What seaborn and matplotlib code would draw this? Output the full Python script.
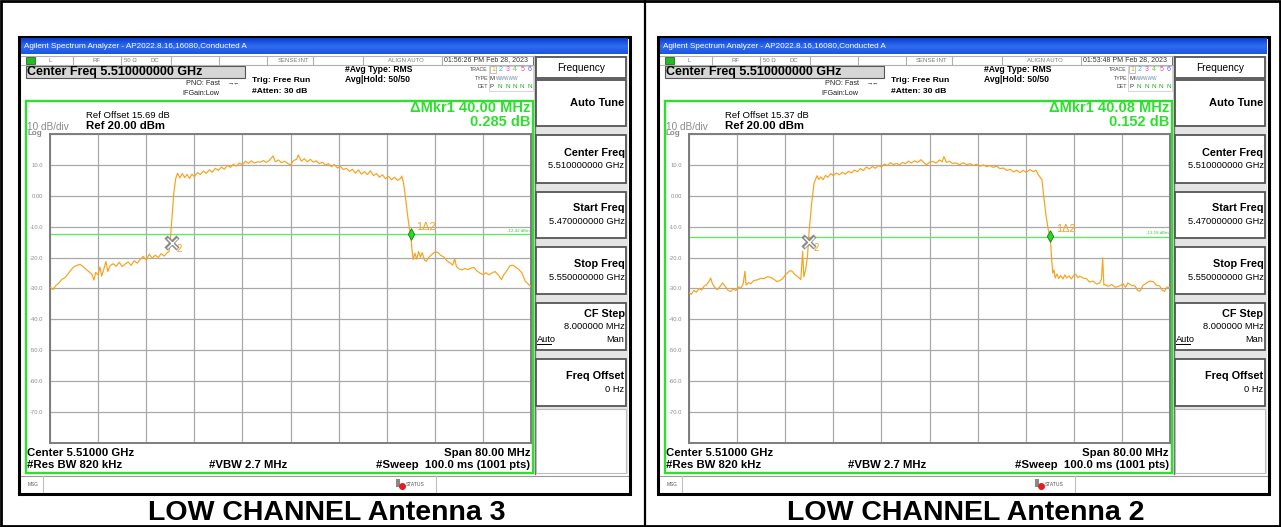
import numpy as np
import pandas as pd
import seaborn as sns
import matplotlib.pyplot as plt
from matplotlib.patches import Rectangle, Circle
from matplotlib.path import Path
from matplotlib.colors import LinearSegmentedColormap

plt.rcParams['font.family'] = ['Liberation Sans', 'DejaVu Sans']

# ---- data ----
start_mhz = 5470.0
captions = ["LOW CHANNEL Antenna 3", "LOW CHANNEL Antenna 2"]
ref_offsets = ["15.69", "15.37"]
clock = ["01:56:26 PM Feb 28, 2023", "01:53:48 PM Feb 28, 2023"]
mkr_delta_freq = ["40.00", "40.08"]
mkr_delta_level = ["0.285", "0.152"]
display_line = [-12.42, -13.18]
mkr1 = [(60.0, -12.4), (60.08, -12.9)]
mkr2 = [(20.3, -15.3), (19.9, -15.0)]

y_ticks = [20, 10, 0, -10, -20, -30, -40, -50, -60, -70, -80]
y_tick_labels = ["", "10.0", "0.00", "-10.0", "-20.0", "-30.0", "-40.0", "-50.0", "-60.0", "-70.0", ""]

ant3_mhz = [0, 0.5, 1.0, 1.5, 2.0, 2.5, 3.0, 3.5, 4.0, 4.5, 5.0, 5.5, 6.0, 6.5, 7.0, 7.3, 7.6, 8.0, 8.3, 8.6,
            9.0, 9.3, 9.6, 10.0, 10.5, 11.0, 11.5, 12.0, 12.5, 13.0, 13.5, 14.0, 14.5, 15.0, 15.5, 16.0, 16.5,
            17.0, 17.5, 18.0, 18.5, 19.0, 19.5, 19.8, 20.0, 20.3, 20.6, 20.9, 21.2, 21.6, 22.0, 22.4, 22.8,
            23.2, 23.6, 24.0, 24.5, 25.0, 25.5, 26.0, 26.5, 27.0, 27.5, 28.0, 28.5, 29.0, 29.5, 30.0, 30.5,
            31.0, 31.5, 32.0, 32.5, 33.0, 33.5, 34.0, 34.5, 35.0, 35.5, 36.0, 36.5, 37.1, 37.5, 38.0, 38.5,
            39.0, 39.5, 40.0, 40.5, 41.0, 41.3, 41.8, 42.3, 42.8, 43.3, 43.8, 44.3, 44.8, 45.3, 45.8, 46.3,
            46.8, 47.3, 47.8, 48.3, 48.8, 49.3, 49.8, 50.3, 50.8, 51.3, 51.8, 52.3, 52.8, 53.3, 53.8, 54.3,
            54.8, 55.3, 55.8, 56.3, 56.8, 57.3, 57.8, 58.3, 58.5, 58.8, 59.1, 59.5, 59.8, 60.0, 60.2, 60.4,
            60.7, 61.0, 61.3, 61.6, 61.9, 62.3, 62.6, 63.0, 63.5, 64.0, 64.5, 65.0, 65.5, 66.0, 66.5, 67.0,
            67.3, 67.6, 68.0, 68.5, 69.0, 69.5, 70.0, 70.5, 71.0, 71.5, 72.0, 72.5, 73.0, 73.5, 74.0, 74.5,
            75.1, 75.5, 76.0, 76.5, 77.0, 77.5, 78.0, 78.5, 79.0, 79.5, 80.0]
ant3_dbm = [-29.5, -30.3, -29.0, -28.2, -27.0, -26.5, -25.3, -24.0, -22.9, -22.5, -22.2, -22.9, -23.8, -24.6,
            -25.5, -27.3, -24.8, -25.6, -23.0, -26.0, -23.4, -21.2, -24.5, -22.6, -22.0, -22.8, -21.5, -22.9,
            -22.1, -21.4, -22.5, -21.0, -21.8, -20.6, -19.6, -20.8, -18.9, -20.2, -19.2, -20.0, -18.7, -19.5,
            -18.4, -18.0, -14.5, -6.7, 1.0, 5.5, 7.3, 5.8, 7.2, 5.9, 6.9, 5.6, 7.0, 6.2, 7.5, 6.9, 8.0, 7.3,
            8.4, 7.6, 8.9, 8.2, 9.3, 8.6, 9.9, 9.2, 10.2, 9.6, 10.6, 10.0, 11.2, 10.5, 11.3, 10.6, 11.0, 10.9,
            11.4, 10.8, 11.5, 12.9, 11.0, 11.6, 10.7, 11.2, 10.5, 10.0, 11.4, 11.8, 13.2, 11.2, 12.0, 11.0,
            11.8, 10.9, 11.3, 10.4, 10.9, 9.9, 10.4, 9.4, 10.1, 9.0, 9.5, 8.5, 8.9, 7.9, 8.6, 7.3, 8.4, 7.0,
            7.8, 6.9, 8.1, 6.5, 7.2, 6.0, 6.8, 5.5, 6.3, 5.2, 6.0, 5.0, 5.6, 6.4, 4.1, -0.2, -6.7, -11.0,
            -12.6, -17.4, -20.6, -18.6, -20.5, -18.0, -19.9, -18.4, -20.8, -21.2, -19.9, -19.0, -18.2, -18.3,
            -19.3, -19.8, -21.0, -21.7, -22.4, -20.3, -22.9, -23.6, -24.0, -23.5, -23.9, -23.4, -23.2, -24.3,
            -25.0, -25.5, -24.9, -25.6, -25.0, -24.5, -25.5, -27.1, -25.5, -24.2, -22.6, -22.5, -23.1, -23.9,
            -25.0, -27.5, -28.5, -29.4]

ant2_mhz = [0.0, 0.4, 0.8, 1.2, 1.7, 2.1, 2.5, 2.9, 3.3, 3.6, 3.9, 4.2, 4.7, 5.1, 5.6, 6.1, 6.5, 6.9, 7.3, 7.8,
            8.2, 8.6, 9.0, 9.3, 9.5, 9.9, 10.3, 10.8, 11.4, 11.9, 12.5, 13.0, 13.6, 14.1, 14.7, 15.2, 15.6,
            16.0, 16.4, 16.8, 17.2, 17.6, 18.1, 18.6, 18.9, 19.1, 19.4, 19.7, 20.0, 20.4, 20.8, 21.3, 21.6,
            21.9, 22.3, 22.7, 23.1, 23.6, 24.0, 24.5, 25.0, 25.5, 26.0, 26.5, 27.0, 27.5, 28.0, 28.5, 29.0,
            29.5, 30.0, 30.5, 31.0, 31.5, 32.0, 32.5, 33.0, 33.5, 34.0, 34.5, 35.0, 35.5, 36.0, 36.5, 37.0,
            37.5, 38.0, 38.6, 39.0, 39.5, 40.0, 40.6, 41.1, 41.7, 42.1, 42.4, 42.8, 43.3, 43.8, 44.5, 45.0,
            45.6, 46.2, 46.8, 47.3, 47.8, 48.4, 49.0, 49.5, 50.0, 50.6, 51.2, 51.7, 52.3, 52.8, 53.4, 54.0,
            54.5, 55.0, 55.6, 56.1, 56.7, 57.3, 57.7, 58.1, 58.7, 59.0, 59.4, 59.8, 60.08, 60.3, 60.5, 60.7,
            60.9, 61.2, 61.5, 61.8, 62.2, 62.5, 62.8, 63.2, 63.6, 63.9, 64.3, 64.7, 65.0, 65.5, 66.1, 66.6,
            67.2, 67.8, 68.3, 68.6, 68.8, 69.0, 69.2, 69.7, 70.3, 70.9, 71.6, 72.2, 72.6, 73.0, 73.6, 74.2,
            74.6, 75.0, 75.5, 76.1, 76.6, 77.2, 77.7, 78.3, 78.7, 79.1, 79.5, 80.0]
ant2_dbm = [-31.4, -31.9, -30.6, -31.2, -30.0, -30.5, -29.2, -28.8, -27.8, -26.6, -28.5, -29.4, -30.4, -29.5,
            -28.2, -29.5, -30.6, -31.0, -30.2, -30.6, -29.5, -29.9, -28.6, -24.4, -28.9, -28.1, -28.4, -27.4,
            -27.2, -26.7, -26.8, -26.2, -26.4, -27.0, -27.8, -27.3, -26.8, -25.6, -24.9, -24.2, -24.5, -25.5,
            -26.2, -27.1, -18.0, -26.2, -24.0, -19.6, -11.0, -2.4, 4.1, 6.5, 5.3, 6.1, 5.2, 6.6, 6.0, 7.2, 6.5,
            7.4, 6.8, 7.6, 7.0, 7.9, 7.4, 8.3, 7.8, 8.8, 8.2, 9.3, 8.7, 9.5, 8.9, 9.8, 9.3, 10.3, 9.8, 10.7,
            10.1, 10.5, 10.0, 10.8, 10.4, 11.2, 10.6, 11.3, 10.8, 11.7, 10.9, 10.0, 10.9, 11.1, 10.6, 11.6,
            11.0, 12.7, 10.8, 11.2, 10.5, 10.6, 10.0, 10.7, 10.1, 10.4, 9.8, 10.2, 9.6, 10.0, 9.4, 9.8, 9.2,
            9.6, 8.8, 9.0, 8.2, 8.6, 7.7, 8.3, 7.5, 8.2, 7.6, 8.5, 7.8, 8.3, 6.8, 5.2, -0.2, -6.7, -11.5,
            -13.0, -20.0, -25.0, -24.0, -26.6, -25.3, -26.8, -25.8, -26.9, -25.6, -26.6, -25.9, -26.9, -26.0,
            -25.4, -26.5, -26.0, -26.6, -26.8, -27.9, -27.6, -28.6, -28.2, -27.0, -20.1, -28.9, -28.7, -29.3,
            -28.7, -29.6, -29.2, -28.5, -29.6, -28.2, -29.0, -29.2, -30.6, -30.9, -29.0, -28.2, -27.6, -27.8,
            -28.9, -29.2, -30.6, -30.9, -29.5, -29.8]

traces = [(ant3_mhz, ant3_dbm), (ant2_mhz, ant2_dbm)]

TRACE = '#f7a21b'
GREEN = '#2ee02e'
GRID = '#a9a9a9'
W, H = 1281, 527

fig = plt.figure(figsize=(W / 100, H / 100), dpi=100)
bg = fig.add_axes([0, 0, 1, 1])
bg.axis('off')


def txt(x, y, s, size, ha='left', weight='normal', color='black', **kw):
    bg.text(x, y, s, fontsize=size, ha=ha, va='center', fontweight=weight, color=color, **kw)


def box(x0, y0, x1, y1, fc='white', ec='none', lw=1.0, z=1):
    bg.add_patch(Rectangle((x0, y0), x1 - x0, y1 - y0, facecolor=fc, edgecolor=ec, linewidth=lw, zorder=z))


def vline(x, y0, y1, color='#9a9a9a', lw=0.8):
    bg.plot([x, x], [y0, y1], color=color, lw=lw, zorder=3)


def hline(y, x0, x1, color='#9a9a9a', lw=0.8):
    bg.plot([x0, x1], [y, y], color=color, lw=lw, zorder=3)


bar_cmap = LinearSegmentedColormap.from_list('bar', ['#0b3fcf', '#2f6cf0', '#1d55df'])
diamond = Path([(0, 1), (0.55, 0), (0, -1), (-0.55, 0), (0, 1)],
               [Path.MOVETO, Path.LINETO, Path.LINETO, Path.LINETO, Path.CLOSEPOLY])


def draw_panel(i, dx):
    X = lambda x: x + dx
    # screenshot frame
    box(X(19), 37, X(630), 494, fc='white', ec='black', lw=2.2, z=1)
    # title bar
    grad = np.linspace(0, 1, 20).reshape(-1, 1)
    bg.imshow(grad, cmap=bar_cmap, extent=(X(21), X(628), 54.5, 39), aspect='auto', zorder=2)
    txt(X(24), 47, "Agilent Spectrum Analyzer - AP2022.8.16,16080,Conducted A", 5.9, color='white', z=4) if False else \
        bg.text(X(24), 47, "Agilent Spectrum Analyzer - AP2022.8.16,16080,Conducted A", fontsize=5.9,
                color='white', va='center', zorder=4)
    # status row
    hline(55.5, X(21), X(534), '#b0b0b0')
    hline(64.5, X(21), X(534), '#b0b0b0')
    box(X(25.5), 56.5, X(35), 63.5, fc='#22bb22', ec='#115511', lw=0.5, z=3)
    for sx in [73.3, 120.7, 170.7, 219, 266.7, 313.3, 363.3, 442.3]:
        vline(X(sx), 55.5, 64.5, '#b0b0b0')
    grey = '#7a7a7a'
    txt(X(50), 60, "L", 4.3, ha='center', color=grey)
    txt(X(96.7), 60, "RF", 4.3, ha='center', color=grey)
    txt(X(130), 60, "50 Ω", 4.3, ha='center', color=grey)
    txt(X(155), 60, "DC", 4.3, ha='center', color=grey)
    txt(X(293), 60, "SENSE:INT", 4.3, ha='center', color=grey)
    txt(X(406), 60, "ALIGN AUTO", 4.3, ha='center', color=grey)
    box(X(442.3), 55.5, X(533), 64.5, fc='white', ec='#555555', lw=0.6, z=2)
    txt(X(444), 60, clock[i], 5.0, color='#333333')
    # center freq header
    box(X(25.7), 66, X(245), 78.3, fc='#d6d6d6', ec='#555555', lw=0.8, z=2)
    txt(X(27), 72.3, "Center Freq 5.510000000 GHz", 9.0, weight='bold')
    txt(X(186), 83.3, "PNO: Fast ", 5.2, color='#222222')
    txt(X(228), 83.3, "→←", 4.5, color='#222222')
    txt(X(182.7), 93.3, "IFGain:Low", 5.2, color='#222222')
    txt(X(251.7), 80.7, "Trig: Free Run", 6.1, weight='bold')
    txt(X(251.7), 91.7, "#Atten: 30 dB", 6.1, weight='bold')
    txt(X(345), 70, "#Avg Type: RMS", 6.2, weight='bold')
    txt(X(345), 80, "Avg|Hold: 50/50", 6.2, weight='bold')
    txt(X(488), 69.3, "TRACE", 3.8, ha='right', color='#444444')
    txt(X(488), 78, "TYPE", 3.8, ha='right', color='#444444')
    txt(X(488), 87, "DET", 3.8, ha='right', color='#444444')
    box(X(489), 65.5, X(533), 91, fc='white', ec='#cfcfcf', lw=0.6, z=2)
    box(X(490), 65.8, X(496), 73, fc='white', ec='#aaaaaa', lw=0.5, z=3)
    trace_cols = ['#f0a020', '#22bbee', '#dd44dd', '#66cc33', '#ee4488', '#6655ee']
    for k, c in enumerate(trace_cols):
        txt(X(493 + 7.3 * k), 69.5, str(k + 1), 5.0, ha='center', color=c)
    txt(X(490), 78, "M", 4.3, color='#333333')
    txt(X(496), 78, "WWWWW", 3.4, color='#6688aa')
    txt(X(490), 87, "P", 4.3, color='#333333')
    for k in range(5):
        txt(X(500.3 + 7.3 * k), 87, "N", 4.6, ha='center', color='#22aa22')
    # green measurement frame
    bg.add_patch(Rectangle((X(25.7), 100.7), 507, 372.6, fill=False, edgecolor=GREEN, lw=1.7, zorder=6))
    txt(X(86), 115, "Ref Offset " + ref_offsets[i] + " dB", 6.8)
    txt(X(86), 125.7, "Ref 20.00 dBm", 8.2, weight='bold')
    txt(X(26.7), 126.5, "10 dB/div", 7.2, color='#8a8a8a')
    txt(X(27), 133.5, "Log", 5.8, color='#8a8a8a', weight='bold')
    txt(X(530.5), 108.3, "ΔMkr1 " + mkr_delta_freq[i] + " MHz", 10.5, ha='right', weight='bold', color=GREEN)
    txt(X(530.5), 122.3, mkr_delta_level[i] + " dB", 10.5, ha='right', weight='bold', color=GREEN)
    txt(X(27), 453.3, "Center 5.51000 GHz", 8.2, weight='bold')
    txt(X(27), 465, "#Res BW 820 kHz", 8.2, weight='bold')
    txt(X(248), 465, "#VBW 2.7 MHz", 8.2, ha='center', weight='bold')
    txt(X(530), 452.7, "Span 80.00 MHz", 8.2, ha='right', weight='bold')
    txt(X(530), 465, "#Sweep  100.0 ms (1001 pts)", 8.2, ha='right', weight='bold')
    # message row
    hline(475.5, X(21), X(628), '#9a9a9a')
    vline(X(42.7), 475.5, 492, '#c0c0c0')
    vline(X(436), 475.5, 492, '#c0c0c0')
    txt(X(27.5), 484, "MSG", 3.4, color='#555555')
    box(X(396), 479, X(400), 487, fc='#888888', ec='none', z=3)
    bg.add_patch(Circle((X(402.5), 486.5), 2.8, color='#e02020', zorder=4))
    txt(X(406), 484, "STATUS", 3.6, color='#555555')
    # softkey column
    box(X(534), 55.5, X(628), 473.5, fc='#e4e4e4', ec='none', z=2)
    vline(X(534.5), 55.5, 474, '#707070', 1.0)
    keys = [(56.7, 78.3), (80, 126), (135, 183.3), (191.7, 238.3), (247.3, 294), (303.3, 350), (359.3, 406)]
    for y0, y1 in keys:
        box(X(536), y0, X(626), y1, fc='white', ec='#555555', lw=1.3, z=3)
    box(X(536), 409, X(626), 472.5, fc='white', ec='#bdbdbd', lw=0.8, z=3)
    txt(X(581), 67.8, "Frequency", 7.3, ha='center')
    txt(X(624.5), 103.5, "Auto Tune", 8.0, ha='right', weight='bold')
    soft = [("Center Freq", "5.510000000 GHz", 152.7), ("Start Freq", "5.470000000 GHz", 208.3),
            ("Stop Freq", "5.550000000 GHz", 264), ("CF Step", "8.000000 MHz", 314.3),
            ("Freq Offset", "0 Hz", 376)]
    for t, v, yy in soft:
        txt(X(624.5), yy, t, 7.8, ha='right', weight='bold')
        txt(X(624.5), yy + 13.3 if t != "CF Step" else yy + 12.4, v, 6.7, ha='right')
    txt(X(537), 339.3, "Auto", 6.7)
    hline(343.5, X(537), X(551), 'black', 0.7)
    txt(X(624.5), 339.3, "Man", 6.7, ha='right')
    # caption
    bg.text(X(327), 512.5, captions[i], fontsize=20.5, fontweight='bold', ha='center', va='center')

    # ---- spectrum plot ----
    ax = fig.add_axes([(50 + dx) / W, 1 - 443 / H, 481 / W, 309 / H])
    mhz, dbm = traces[i]
    df = pd.DataFrame({'freq': start_mhz + np.array(mhz), 'level': dbm})
    sns.lineplot(data=df, x='freq', y='level', ax=ax, color=TRACE, linewidth=0.85,
                 estimator=None, sort=False, zorder=3)
    ax.set_xlim(start_mhz, start_mhz + 80)
    ax.set_ylim(-80, 20)
    ax.set_xticks(start_mhz + np.arange(0, 81, 8))
    ax.set_xticklabels([])
    ax.set_yticks(y_ticks)
    ax.set_yticklabels(y_tick_labels)
    ax.tick_params(length=0, labelsize=4.2, labelcolor='#8c8c8c', pad=5)
    ax.grid(True, color=GRID, lw=0.9)
    ax.set_axisbelow(True)
    for sp in ax.spines.values():
        sp.set_color('#7d7d7d')
        sp.set_linewidth(1.4)
    ax.set_xlabel('')
    ax.set_ylabel('')
    # display line
    ax.axhline(display_line[i], color='#55ee55', lw=0.9, zorder=2)
    ax.text(start_mhz + 79.7, display_line[i] + 0.4, "%.2f dBm" % display_line[i], fontsize=3.2,
            color='#33cc33', ha='right', va='bottom')
    # marker 2 (reference)
    m2x, m2y = mkr2[i]
    ax.plot(start_mhz + m2x, m2y, marker='x', ms=8.5, mew=3.2, color='#8a8a8a', zorder=5)
    ax.plot(start_mhz + m2x, m2y, marker='x', ms=7.5, mew=1.0, color='white', zorder=6)
    ax.annotate("2", (start_mhz + m2x, m2y), xytext=(3.5, -4.5), textcoords='offset points',
                fontsize=7, color=TRACE, va='center', zorder=6)
    # marker 1 (delta)
    m1x, m1y = mkr1[i]
    ax.scatter([start_mhz + m1x], [m1y], marker=diamond, s=70, color='#22dd22', edgecolor='#1a7a1a',
               linewidth=0.6, zorder=6)
    ax.annotate("1Δ2", (start_mhz + m1x, m1y), xytext=(4, 5), textcoords='offset points',
                fontsize=7.8, color=TRACE, va='center', zorder=6)


draw_panel(0, 0)
draw_panel(1, 639)

# outer border and divider
bg.add_patch(Rectangle((1, 1), W - 2, H - 2, fill=False, edgecolor='black', lw=2, zorder=10))
bg.plot([645, 645], [0, H], color='black', lw=1.6, zorder=10)
bg.set_xlim(0, W)
bg.set_ylim(H, 0)

fig.savefig('out.png', dpi=100)
